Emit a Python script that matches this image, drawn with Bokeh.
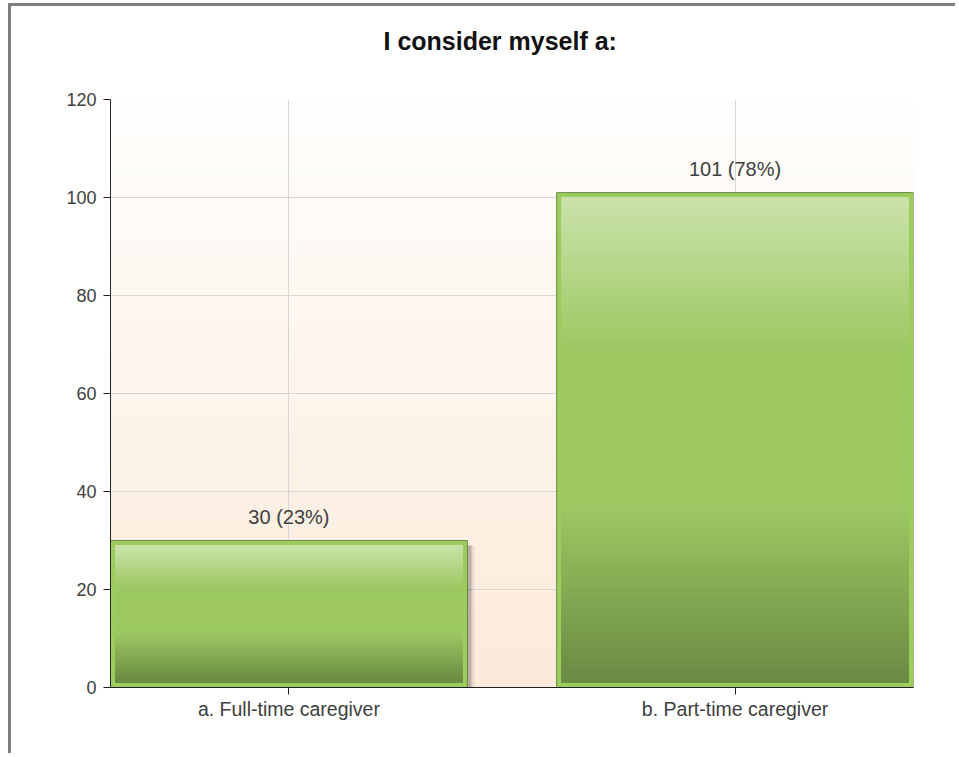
import numpy as np
from bokeh.plotting import figure
from bokeh.models import ColumnDataSource, LabelSet, Title, BoxAnnotation, FactorRange, FixedTicker
from bokeh.core.properties import value
from bokeh.transform import dodge
from bokeh.embed import file_html
from bokeh.resources import INLINE

# ---- data ----
categories = ["a. Full-time caregiver", "b. Part-time caregiver"]
counts = [30, 101]
percents = [23, 78]
y_ticks = [0, 20, 40, 60, 80, 100, 120]
title_text = "I consider myself a:"

# canvas origin at page (11, 6) because of margin + border styles
OX, OY = 11, 6
W, H = 947, 750
FONT = "Liberation Sans"
FRAME_L, FRAME_R, FRAME_T, FRAME_B = 110, 913, 99, 687
p = figure(width=W, height=H,
           x_range=FactorRange(*categories, range_padding=-0.1),
           y_range=(0, 120),
           output_backend="svg", toolbar_location=None,
           min_border_left=FRAME_L - OX, min_border_right=W - (FRAME_R - OX),
           min_border_top=FRAME_T - OY, min_border_bottom=H - (FRAME_B - OY))

p.styles = {"margin-left": "8px", "margin-top": "3px",
            "border-left": "3px solid #808080", "border-top": "3px solid #808080"}

p.outline_line_color = None
p.background_fill_color = "white"
p.border_fill_color = "white"

# ---- background vertical gradient (stripes following the y range) ----
def lerp(c1, c2, t):
    return "#%02x%02x%02x" % tuple(int(round(a + (b - a) * t)) for a, b in zip(c1, c2))

bg_top = (255, 254, 253)
bg_bot = (251, 234, 217)
NB = 60
y0, y1 = p.y_range.start, p.y_range.end
for k in range(NB):
    top = y1 - (y1 - y0) * k / NB
    bot = y1 - (y1 - y0) * (k + 1) / NB
    c = lerp(bg_top, bg_bot, (k + 0.5) / NB)
    p.add_layout(BoxAnnotation(bottom=bot, top=top, fill_color=c, fill_alpha=1,
                               line_color=c, line_alpha=1, line_width=1, level="image"))

# ---- grid / axes ----
p.xgrid.grid_line_color = "#d6d6d6"
p.ygrid.grid_line_color = "#d6d6d6"
p.ygrid.ticker = FixedTicker(ticks=y_ticks)
p.yaxis.ticker = FixedTicker(ticks=y_ticks)

for ax in (p.xaxis[0], p.yaxis[0]):
    ax.axis_line_color = "#222222"
    ax.axis_line_width = 1
    ax.major_tick_line_color = "#222222"
    ax.major_tick_in = 0
    ax.major_tick_out = 7
    ax.minor_tick_line_color = None
    ax.major_label_text_font = FONT
    ax.major_label_text_color = "#404040"
p.yaxis.major_label_text_font_size = "18px"
p.yaxis.major_label_standoff = 7
p.xaxis.major_label_text_font_size = "19.5px"
p.xaxis.major_label_standoff = 3

# ---- bars ----
bar_w = 0.8
px_per_cat = 445.0
px_per_unit = 4.9
inset_x = 5.0 / px_per_cat
inset_y = 5.0 / px_per_unit

src = ColumnDataSource(dict(cat=categories, count=counts,
                            label=[f"{c} ({q}%)" for c, q in zip(counts, percents)],
                            shadow_top=[c - inset_y for c in counts]))

# shadow
p.vbar(x=dodge("cat", 7.0 / px_per_cat, range=p.x_range), top="shadow_top", bottom=0,
       width=bar_w, source=src, fill_color="black", fill_alpha=0.08, line_color=None)
p.vbar(x=dodge("cat", 4.0 / px_per_cat, range=p.x_range), top="shadow_top", bottom=0,
       width=bar_w, source=src, fill_color="black", fill_alpha=0.20, line_color=None)

# outer border
p.vbar(x="cat", top="count", bottom=0, width=bar_w, source=src,
       fill_color="#9ccb5e", line_color="#6c8a48", line_width=1)

# inner gradient
c_top = (202, 227, 170)
c_mid = (157, 200, 98)
c_bot = (106, 138, 67)
def bar_color(f):
    if f < 0.32:
        return lerp(c_top, c_mid, f / 0.32)
    if f < 0.64:
        return lerp(c_mid, c_mid, 0)
    return lerp(c_mid, c_bot, (f - 0.64) / 0.36)

N = 100
xs, tops, bots, cols = [], [], [], []
for cat, v in zip(categories, counts):
    t0, b0 = v - inset_y, inset_y
    for k in range(N):
        xs.append(cat)
        tops.append(t0 - (t0 - b0) * k / N)
        bots.append(t0 - (t0 - b0) * (k + 1) / N)
        cols.append(bar_color((k + 0.5) / N))
gsrc = ColumnDataSource(dict(x=xs, top=tops, bottom=bots, color=cols))
p.vbar(x="x", top="top", bottom="bottom", width=bar_w - 2 * inset_x, source=gsrc,
       fill_color="color", line_color="color", line_width=1)

# value labels
p.add_layout(LabelSet(x="cat", y="count", text="label", source=src,
                      text_align="center", text_baseline="bottom", y_offset=13,
                      text_font=value(FONT), text_font_size=value("20px"),
                      text_color=value("#404040")))

# spacer between the title and the frame (empty title)
p.add_layout(Title(text=" ", text_font_size="34px", standoff=0), "above")

# title
p.title.text = title_text
p.title.align = "left"
p.title.offset = 273
p.title.text_font = FONT
p.title.text_font_size = "25px"
p.title.text_font_style = "bold"
p.title.text_color = "#111111"
p.title.standoff = 10

open("out.html", "w").write(file_html(p, INLINE))
